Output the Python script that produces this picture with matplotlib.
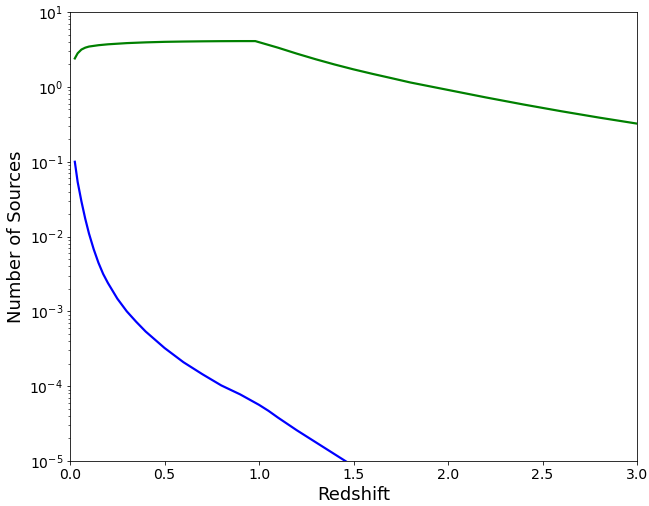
import numpy as np
import matplotlib
matplotlib.use("Agg")
import matplotlib.pyplot as plt

# values (log10 of the number of sources)
z_green = [0.025, 0.04, 0.06, 0.08, 0.1, 0.15, 0.2, 0.3, 0.4, 0.5, 0.6, 0.7,
           0.8, 0.9, 0.98, 1.1, 1.2, 1.3, 1.4, 1.5, 1.6, 1.7, 1.8, 1.9, 2.0,
           2.2, 2.4, 2.6, 2.8, 3.0]
log_green = [0.381, 0.45, 0.50, 0.525, 0.540, 0.558, 0.570, 0.586, 0.596, 0.603,
             0.607, 0.610, 0.612, 0.613, 0.613, 0.525, 0.445, 0.37, 0.30, 0.235,
             0.175, 0.118, 0.06, 0.01, -0.04, -0.14, -0.235, -0.325, -0.41, -0.49]

z_blue = [0.025, 0.04, 0.06, 0.08, 0.1, 0.125, 0.15, 0.175, 0.2, 0.25, 0.3,
          0.35, 0.4, 0.5, 0.6, 0.7, 0.8, 0.9, 0.95, 1.0, 1.05, 1.1, 1.2, 1.3,
          1.4, 1.5]
log_blue = [-1.0, -1.27, -1.53, -1.76, -1.96, -2.17, -2.35, -2.50, -2.62, -2.83,
            -3.00, -3.14, -3.27, -3.49, -3.68, -3.84, -3.99, -4.11, -4.18, -4.25,
            -4.33, -4.42, -4.59, -4.75, -4.91, -5.07]

fig = plt.figure(figsize=(649 / 72, 506 / 72), dpi=72)
ax = fig.add_axes([0.108, 0.089, 0.8735, 0.887])
ax.plot(z_green, 10 ** np.array(log_green), color="green", lw=2.2)
ax.plot(z_blue, 10 ** np.array(log_blue), color="blue", lw=2.2)
ax.set_yscale("log")
ax.set_xlim(0, 3)
ax.set_ylim(1e-5, 10)
ax.set_xlabel("Redshift", fontsize=18)
ax.set_ylabel("Number of Sources", fontsize=18)
ax.tick_params(labelsize=14)
fig.savefig("out.png", dpi=72)
